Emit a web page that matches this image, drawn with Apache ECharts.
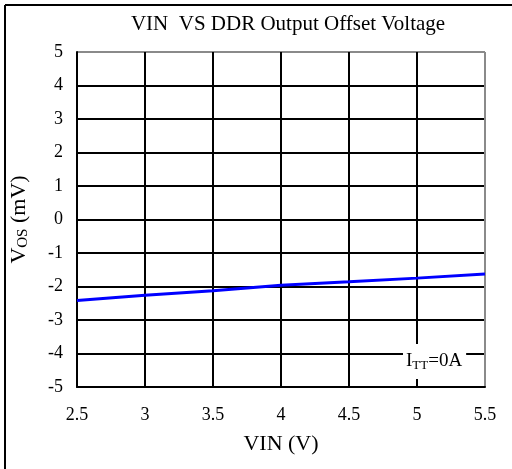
<!DOCTYPE html>
<html>
<head>
<meta charset="utf-8">
<script src="https://cdn.jsdelivr.net/npm/echarts@6/dist/echarts.min.js"></script>
<style>
  html, body { margin: 0; padding: 0; background: #fff; }
  #chart { width: 512px; height: 469px; }
</style>
</head>
<body>
<div id="chart"></div>
<script>
// Input voltage sweep (V) and measured DDR output offset voltage (mV)
const vin = [2.5, 3, 3.5, 4, 4.5, 5, 5.5];
const vos = [-2.42, -2.26, -2.13, -1.96, -1.86, -1.75, -1.63];

const xTicks = [2.5, 3, 3.5, 4, 4.5, 5, 5.5];
const yTicks = [-5, -4, -3, -2, -1, 0, 1, 2, 3, 4, 5];

const serif = '"Liberation Serif", "DejaVu Serif", serif';

// grid lines are black, except the top and right edges which are grey
const yLineColors = yTicks.map((v, i) => i === yTicks.length - 1 ? '#8a8a8a' : '#000');
const xLineColors = xTicks.map((v, i) => i === xTicks.length - 1 ? '#8a8a8a' : '#000');

const chart = echarts.init(document.getElementById('chart'), null, { renderer: 'canvas' });

chart.setOption({
  animation: false,
  backgroundColor: '#fff',
  title: {
    text: 'VIN  VS DDR Output Offset Voltage',
    left: 283, top: 9, textAlign: 'center',
    textStyle: { fontFamily: serif, fontSize: 21, fontWeight: 'normal', color: '#000' }
  },
  grid: { left: 77, top: 52, width: 408, height: 335, containLabel: false },
  xAxis: {
    type: 'value',
    min: xTicks[0], max: xTicks[xTicks.length - 1], interval: 0.5,
    name: 'VIN (V)', nameLocation: 'middle', nameGap: 46,
    nameTextStyle: { fontFamily: serif, fontSize: 22, color: '#000' },
    axisLine: { show: true, onZero: false, lineStyle: { color: '#000', width: 2 } },
    axisTick: { show: false },
    axisLabel: { fontFamily: serif, fontSize: 18, color: '#000', margin: 19 },
    splitLine: { show: true, lineStyle: { color: xLineColors, width: 2 } }
  },
  yAxis: {
    type: 'value',
    min: yTicks[0], max: yTicks[yTicks.length - 1], interval: 1,
    name: '{v|V}{sub|OS}{v| (mV)}', nameLocation: 'middle', nameGap: 46, nameRotate: 90,
    nameTextStyle: {
      fontFamily: serif, fontSize: 22, color: '#000',
      rich: {
        v: { fontFamily: serif, fontSize: 22, color: '#000' },
        sub: { fontFamily: serif, fontSize: 15, color: '#000', padding: [9, 0, 0, 0] }
      }
    },
    axisLine: { show: true, lineStyle: { color: '#000', width: 2 } },
    axisTick: { show: false },
    axisLabel: { fontFamily: serif, fontSize: 18, color: '#000', margin: 14 },
    splitLine: { show: true, lineStyle: { color: yLineColors, width: 2 } }
  },
  series: [{
    type: 'line',
    data: vin.map((x, i) => [x, vos[i]]),
    showSymbol: false,
    lineStyle: { color: '#0000ff', width: 3 },
    z: 5
  }],
  graphic: [
    // frame lines along the top and left edges
    { type: 'line', shape: { x1: 5, y1: 5, x2: 512, y2: 5 }, style: { stroke: '#000', lineWidth: 2 } },
    { type: 'line', shape: { x1: 5, y1: 5, x2: 5, y2: 469 }, style: { stroke: '#000', lineWidth: 2 } },
    // load condition note
    {
      type: 'text', left: 403, top: 344, z: 10,
      style: {
        text: '{i|I}{s|TT}{i|=0A}',
        backgroundColor: '#fff',
        padding: [7, 4, 7, 3],
        rich: {
          i: { fontFamily: serif, fontSize: 19, fill: '#000' },
          s: { fontFamily: serif, fontSize: 13, fill: '#000', padding: [8, 0, 0, 0] }
        }
      }
    }
  ]
});
</script>
</body>
</html>
